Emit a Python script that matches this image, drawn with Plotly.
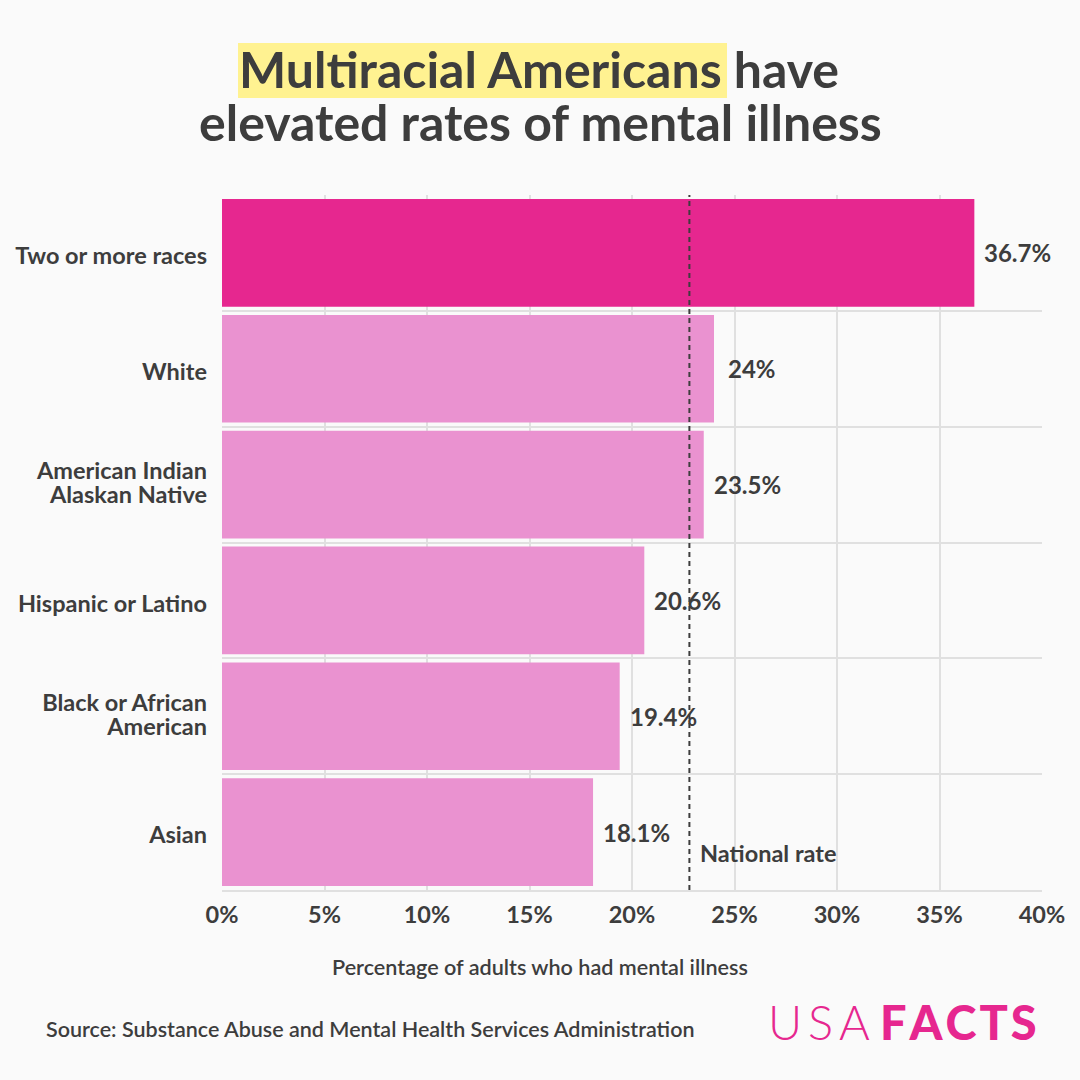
import plotly.graph_objects as go

categories = ["Two or more races", "White", "American Indian<br>Alaskan Native",
              "Hispanic or Latino", "Black or African<br>American", "Asian"]
values = [36.7, 24.0, 23.5, 20.6, 19.4, 18.1]
value_labels = ["36.7%", "24%", "23.5%", "20.6%", "19.4%", "18.1%"]
label_gaps = [8, 12, 8, 8, 8, 8]
bar_colors = ["#E6278F", "#EA92D0", "#EA92D0", "#EA92D0", "#EA92D0", "#EA92D0"]
x_ticks = [0, 5, 10, 15, 20, 25, 30, 35, 40]
x_tick_labels = [f"{t}%" for t in x_ticks]
national_rate = 22.8

INK = "#3D3D3D"
GRID = "#E0E0E0"
PINK = "#E6278F"
FONT = "Lato"
L, R, T, B = 222, 1042, 195, 890
px = lambda x: (x - L) / (R - L)
py = lambda y: (B - y) / (B - T)

rows = list(range(len(categories)))
boundaries = [r + 0.5 for r in rows[:-1]]
tick_offsets = [0.04, 0.04, 0.0, 0.04, 0.0, 0.04]
tick_positions = [r + o for r, o in zip(rows, tick_offsets)]
# line pitch follows the small tickfont size; glyph size follows the span
tick_text = ["<br>".join(f'<span style="font-size:23.5px">{part}</span>' for part in c.split("<br>"))
             for c in categories]

fig = go.Figure(go.Bar(x=values, y=rows, orientation="h",
                       marker=dict(color=bar_colors, line_width=0), hoverinfo="skip"))


def note(text, x, y, size, weight=700, color=INK, anchor="center"):
    fig.add_annotation(text=text, x=px(x), y=py(y), xref="paper", yref="paper",
                       showarrow=False, xanchor=anchor, yanchor="middle",
                       font=dict(family=FONT, size=size, color=color, weight=weight))


for row, val, lab, gap in zip(rows, values, value_labels, label_gaps):
    fig.add_annotation(text=lab, x=val, y=row, xref="x", yref="y", showarrow=False,
                       xanchor="left", xshift=gap,
                       font=dict(family=FONT, size=24, color=INK, weight=700))

note("Multiracial Americans have", 539, 69, 50)
note("elevated rates of mental illness", 540, 122, 50)
note("National rate", 698, 853, 23.5, anchor="left")
note("Percentage of adults who had mental illness", 540, 967, 21.6, weight=600)
note("Source: Substance Abuse and Mental Health Services Administration", 43.5, 1029, 21.5,
     weight=600, anchor="left")
note("U\u2009S\u2009A", 766, 1022, 47, weight=300, color=PINK, anchor="left")
note("F\u200aA\u200aC\u200aT\u200aS", 878, 1022, 47, weight=900, color=PINK, anchor="left")

fig.add_shape(type="rect", xref="paper", yref="paper", x0=px(238), x1=px(727), y0=py(98), y1=py(43),
              fillcolor="#FFF291", line_width=0, layer="below")
fig.add_shape(type="line", xref="x", yref="paper", x0=national_rate, x1=national_rate, y0=0, y1=1,
              line=dict(color=INK, width=2, dash="5px,4px"))

fig.update_layout(
    width=1080, height=1080, showlegend=False, bargap=0.07,
    paper_bgcolor="#FAFAFA", plot_bgcolor="#FAFAFA",
    margin=dict(l=L, r=1080 - R, t=T, b=1080 - B, autoexpand=False),
    font=dict(family=FONT, color=INK),
    xaxis=dict(range=[0, 40], tickvals=x_ticks, ticktext=x_tick_labels, showgrid=True,
               gridcolor=GRID, gridwidth=2, zeroline=False, showline=True, linecolor=GRID,
               linewidth=2, tickfont=dict(family=FONT, size=23.5, color=INK, weight=700),
               ticks="", ticklabelstandoff=3),
    yaxis=dict(range=[5.5, -0.5], tickmode="array", tickvals=tick_positions, ticktext=tick_text,
               showgrid=False, zeroline=False, ticks="", ticklen=0, ticklabelstandoff=14,
               minor=dict(tickvals=boundaries, showgrid=True, gridcolor=GRID, gridwidth=2, ticks=""),
               tickfont=dict(family=FONT, size=18.5, color=INK, weight=700)),
)

fig.write_html("out.html", config=dict(displayModeBar=False),
               post_script="document.body.style.margin='0';")
